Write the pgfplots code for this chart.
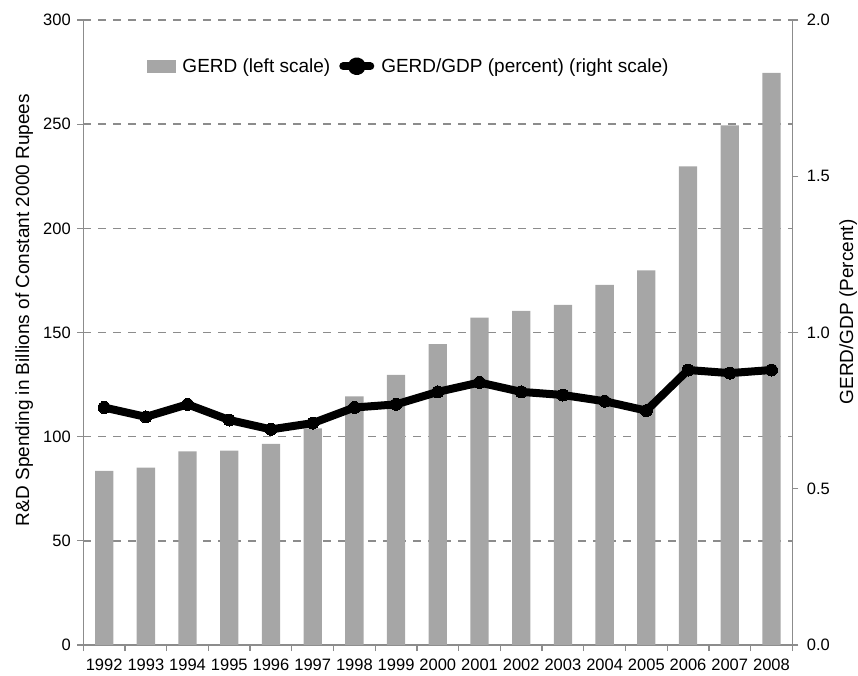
\documentclass[border=0pt]{standalone}
\usepackage{pgfplots}
\pgfplotsset{compat=1.18}
\usepackage{fontspec}
\setmainfont{Liberation Sans}

\definecolor{barcol}{HTML}{A6A6A6}
\definecolor{axcol}{HTML}{8C8C8C}

\pgfplotsset{
  common/.style={
    scale only axis, width=709pt, height=625pt,
    at={(0pt,0pt)}, anchor=south west,
    xmin=-0.5, xmax=16.5,
    /pgf/number format/assume math mode=true,
    tick label style={font=\fontsize{16.5}{19}\selectfont},
    axis line style={axcol, line width=1.3pt},
    tick style={axcol, line width=1.3pt},
    tick align=outside,
    major tick length=6pt, minor tick length=6pt,
  },
}

\begin{document}
\begin{tikzpicture}
\useasboundingbox (-83.3pt,-30pt) rectangle (774.7pt,645pt);

% left scale: GERD bars
\begin{axis}[common,
  axis y line*=left, axis x line*=bottom,
  ymin=0, ymax=300, ytick={0,50,...,300},
  ymajorgrids,
  grid style={axcol, line width=1.4pt, dash pattern=on 8pt off 7pt},
  xtick={0,...,16},
  xticklabels={1992,1993,1994,1995,1996,1997,1998,1999,2000,2001,2002,2003,2004,2005,2006,2007,2008},
  minor xtick={-0.5,0.5,...,16.5},
  major x tick style={draw=none},
  xticklabel style={yshift=-4pt},
  yticklabel style={xshift=-3pt},
  ylabel={R\&D Spending in Billions of Constant 2000 Rupees},
  every axis y label/.style={at={(axis description cs:-0.0832,0.536)}, rotate=90, anchor=center,
    font=\fontsize{19}{22}\selectfont},
]
\addplot[ybar, bar width=18.3pt, fill=barcol, draw=none] coordinates {
  (0,83.6) (1,85.2) (2,92.9) (3,93.3) (4,96.5) (5,104) (6,119.3) (7,129.7)
  (8,144.4) (9,157.2) (10,160.4) (11,163.3) (12,172.9) (13,179.8)
  (14,229.7) (15,249.4) (16,274.6)
};
\end{axis}

% right scale: GERD/GDP line
\begin{axis}[common,
  axis y line*=right, axis x line=none,
  ymin=0, ymax=2, ytick={0,0.5,...,2},
  yticklabel style={xshift=5pt, /pgf/number format/.cd, fixed, fixed zerofill, precision=1},
  ylabel={GERD/GDP (Percent)},
  every axis y label/.style={at={(axis description cs:1.079,0.533)}, rotate=90, anchor=center,
    font=\fontsize{19}{22}\selectfont},
  legend style={draw=none, fill=none, at={(axis description cs:0.085,0.926)}, anchor=west,
    legend columns=-1, font=\fontsize{19}{22}\selectfont,
    /tikz/every odd column/.append style={column sep=5pt},
    /tikz/every even column/.append style={column sep=7pt}},
]
\addlegendimage{legend image code/.code={\fill[barcol] (0pt,-5.8pt) rectangle (28.3pt,5.8pt);}}
\addlegendentry{GERD (left scale)}
\addplot[black, line width=8pt, line join=round, mark=*, mark size=6pt,
  mark options={fill=black, draw=black, line width=0pt},
  legend image code/.code={
    \draw[black, line width=8pt, line cap=round] (4pt,0pt) -- (31pt,0pt);
    \fill[black] (17.5pt,0pt) circle (5pt);}]
coordinates {
  (0,0.76) (1,0.73) (2,0.77) (3,0.72) (4,0.69) (5,0.71) (6,0.76) (7,0.77)
  (8,0.81) (9,0.84) (10,0.81) (11,0.80) (12,0.78) (13,0.75)
  (14,0.88) (15,0.87) (16,0.88)
};
\addlegendentry{GERD/GDP (percent) (right scale)}
\end{axis}
\end{tikzpicture}
\end{document}
